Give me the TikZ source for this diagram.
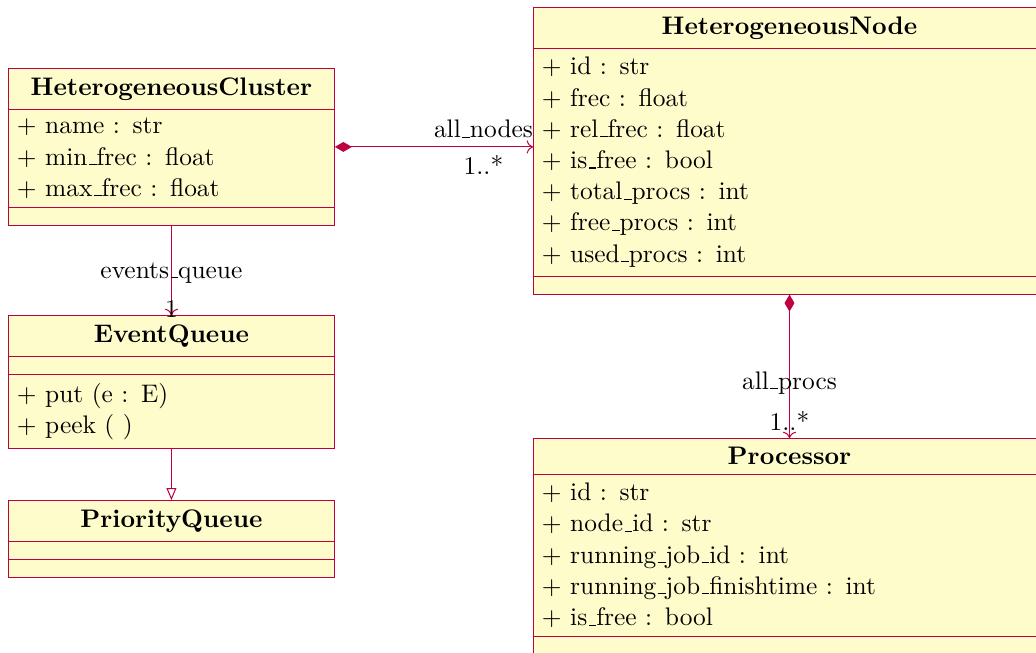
\documentclass[tikz,border=0pt]{standalone}
\usetikzlibrary{arrows.meta,shapes.multipart}
\newcommand{\uscore}{\leavevmode\kern.06em\vbox{\hrule width.3em}}

\begin{document}
\begin{tikzpicture}[
		umlclass/.style={rectangle split, rectangle split parts=3, color=purple, draw=purple, text=black, fill=yellow!20, anchor=north west, inner ysep=3.33pt, align=left, font=\fontsize{10}{12.3}\selectfont},
		link/.style={draw=purple},
		comp/.style={link, {Diamond[length=6.7pt, width=3.9pt]}->},
		inherit/.style={link, -{Triangle[open, length=4.7pt, width=3.9pt]}}]
		\useasboundingbox (0, 0) rectangle (14.335, -9.035);
		\clip (0, 0) rectangle (14.335, -9.035);
		
		\node[umlclass, text width=121.6pt] (cluster) at (0.111, -0.941) {\makebox[\linewidth]{\textbf{HeterogeneousCluster}}
			\nodepart{two} + name : str\\ + min\uscore frec : float\\ + max\uscore frec : float
			\nodepart{three}};
		\node[umlclass, text width=121.6pt] (queue) at (0.111, -4.359) {\makebox[\linewidth]{\textbf{EventQueue}}
			\nodepart{two}
			\nodepart{three} + put (e : E)\\ + peek ( )};
		\node[umlclass, text width=121.6pt] (prio) at (0.111, -6.919) {\makebox[\linewidth]{\textbf{PriorityQueue}}
			\nodepart{two}
			\nodepart{three}};
		\node[umlclass, text width=194.9pt] (hnode) at (7.375, -0.097) {\makebox[\linewidth]{\textbf{HeterogeneousNode}}
			\nodepart{two} + id : str\\ + frec : float\\ + rel\uscore frec : float\\ + is\uscore free : bool\\ + total\uscore procs : int\\ + free\uscore procs : int\\ + used\uscore procs : int
			\nodepart{three}};
		\node[umlclass, text width=194.9pt] (proc) at (7.375, -6.061) {\makebox[\linewidth]{\textbf{Processor}}
			\nodepart{two} + id : str\\ + node\uscore id : str\\ + running\uscore job\uscore id : int\\ + running\uscore job\uscore finishtime : int\\ + is\uscore free : bool
			\nodepart{three}};
		
		\path[comp] (cluster.east) -- node[above, pos=.75] {all\uscore nodes} node[below, pos=.75] {1..*} (cluster.east -| hnode.west);
		\path[link, ->] (cluster.south) -- node[pos=.53] {events\uscore queue} node[pos=.93] {1} (queue.north);
		\path[inherit] (queue.south) -- (prio.north);
		\path[comp] (hnode.south) -- node[pos=.615] {all\uscore procs} node[pos=.88] {1..*} (proc.north);
	\end{tikzpicture}
\end{document}
